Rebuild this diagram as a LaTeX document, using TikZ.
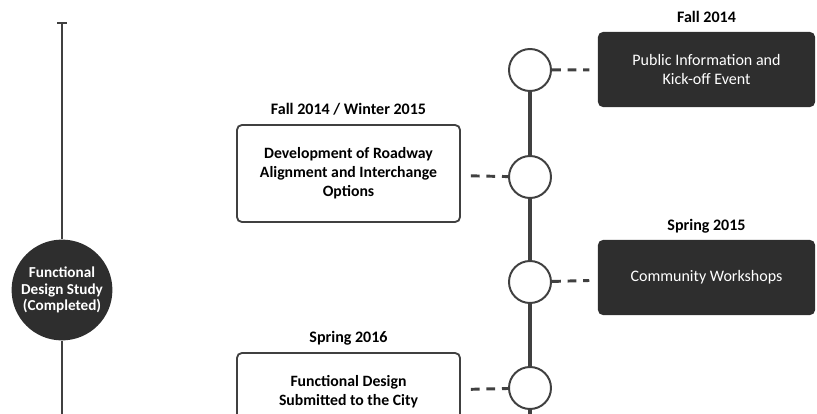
\documentclass[tikz,border=0pt]{standalone}
\usepackage{fontspec}
\setmainfont{Carlito}
\usetikzlibrary{positioning}
\definecolor{dark-fill}{HTML}{2E2E2E}
\definecolor{line-gray}{HTML}{404040}

\tikzset{
    darkbox/.style={fill=dark-fill, rounded corners=3.5pt, minimum width=5.425cm, minimum height=1.875cm, text=white, align=center, inner sep=0pt},
    lightbox/.style={draw=line-gray, line width=1.3pt, fill=white, rounded corners=3.5pt, minimum width=5.575cm, align=center, inner sep=0pt, font=\fontsize{11.2}{13.5}\selectfont\bfseries},
    datelbl/.style={font=\fontsize{11.4}{13.5}\selectfont\bfseries, inner sep=0pt, text depth=0pt},
    milestone/.style={circle, draw=line-gray, line width=1.4pt, fill=white, minimum size=1.05cm, inner sep=0pt},
    dashlink/.style={line-gray, line width=2.1pt, dash pattern=on 0.22cm off 0.17cm},
}

\begin{document}
\begin{tikzpicture}[x=0.025cm, y=-0.025cm, every node/.style={font=\fontsize{11.4}{13.5}\selectfont}]
    \useasboundingbox (0,0) rectangle (817,414);
    \clip (0,0) rectangle (817,414);

    % left: completed study
    \coordinate (ltop) at (62,23);
    \coordinate (lbot) at (62,420);
    \node[circle, fill=dark-fill, minimum size=2.52cm, inner sep=0pt, text=white, align=center, font=\fontsize{10.8}{11.8}\selectfont\bfseries] (study) at (62,290) {Functional\\Design Study\\(Completed)};
    \draw[line-gray, line width=1.3pt] (ltop) -- (study);
    \draw[line-gray, line width=1.3pt] (study) -- (lbot);
    \draw[line-gray, line width=1.3pt] (ltop) ++(-5,0) -- ++(10,0);

    % right: timeline
    \coordinate (rbot) at (530,420);
    \node[milestone] (m1) at (530,70) {};
    \node[milestone] (m2) at (530,177) {};
    \node[milestone] (m3) at (530,282) {};
    \node[milestone] (m4) at (530,388) {};
    \draw[line-gray, line width=2.2pt] (m1) -- (m2);
    \draw[line-gray, line width=2.2pt] (m2) -- (m3);
    \draw[line-gray, line width=2.2pt] (m3) -- (m4);
    \draw[line-gray, line width=2.2pt] (m4) -- (rbot);

    % events
    \node[darkbox] (kickoff) at (706.5,69.5) {Public Information and\\Kick-off Event};
    \node[lightbox, minimum height=2.425cm] (roadway) at (348.5,173.5) {Development of Roadway\\Alignment and Interchange\\Options};
    \node[darkbox] (workshops) at (706.5,277.5) {Community Workshops};
    \node[lightbox, minimum height=1.95cm] (submitted) at (348.5,392) {Functional Design\\Submitted to the City};

    % dates
    \node[datelbl, above=0.22cm of kickoff] (d1) {Fall 2014};
    \node[datelbl, above=0.22cm of roadway] (d2) {Fall 2014 / Winter 2015};
    \node[datelbl, above=0.22cm of workshops] (d3) {Spring 2015};
    \node[datelbl, above=0.22cm of submitted] (d4) {Spring 2016};

    % links
    \draw[dashlink, shorten >=6] (m1) -- (kickoff);
    \draw[dashlink, shorten <=7] (roadway) -- (m2);
    \draw[dashlink, shorten >=6] (m3) -- (workshops);
    \draw[dashlink, shorten <=7] (submitted) -- (m4);
\end{tikzpicture}
\end{document}
